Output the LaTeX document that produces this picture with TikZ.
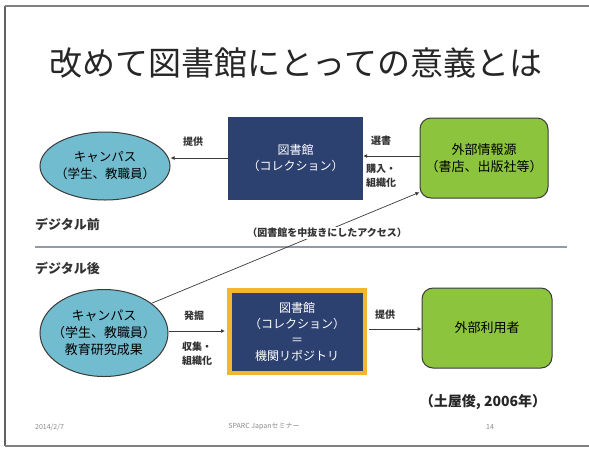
\documentclass[tikz,border=0pt]{standalone}
\usepackage{fontspec}
\setmainfont{Noto Sans CJK JP}
\usetikzlibrary{arrows.meta,shapes.geometric}
\definecolor{campus}{HTML}{72BCCF}
\definecolor{navy}{HTML}{2D4170}
\definecolor{leaf}{HTML}{8DC43D}
\definecolor{gold}{HTML}{F4B532}
\definecolor{edge}{HTML}{3A3A3A}
\definecolor{rule}{HTML}{8E9CA8}
\definecolor{foot}{HTML}{8A8A8A}
\tikzset{
  campusnode/.style={ellipse, draw=edge, line width=1pt, fill=campus, inner xsep=-12pt, inner ysep=-4pt, align=center},
  libnode/.style={rectangle, fill=navy, text=white, inner sep=0pt, align=center, font=\fontsize{12}{16}\selectfont},
  srcnode/.style={rectangle, rounded corners=11pt, draw=edge, line width=1pt, fill=leaf, inner sep=0pt, align=center, font=\fontsize{13}{17}\selectfont},
  lbl/.style={font=\fontsize{10}{14}\bfseries\selectfont, text=black!80, inner sep=0pt, align=left},
  conn/.style={draw=edge, line width=0.9pt, -{Latex[length=4pt,width=4pt]}},
  sect/.style={font=\fontsize{13}{15}\bfseries\selectfont, text=black!80, anchor=west, inner sep=0pt},
  footnode/.style={font=\fontsize{7}{8}\selectfont, text=foot, inner sep=0pt}
}
\begin{document}
\begin{tikzpicture}[x=1pt,y=-1pt]
\useasboundingbox (0,0) rectangle (589,448);
\fill[white] (0,0) rectangle (589,448);
% slide frame
\draw[edge!80, line width=2pt] (5,6) -- (5,446);
\draw[gray, line width=1.2pt] (5,6) -- (589,6);
\draw[gray, line width=1.2pt] (5,446) -- (589,446);
% title
\node[font=\fontsize{33}{36}\selectfont, text=black!85] (title) at (296,63) {改めて図書館にとっての意義とは};
% top row
\node[campusnode, font=\fontsize{12.5}{17}\selectfont, minimum width=130pt, minimum height=68pt] (campusA) at (105,166) {キャンパス\\（学生、教職員）};
\node[libnode, minimum width=135pt, minimum height=83pt] (libA) at (295.5,158.5) {図書館\\（コレクション）};
\node[srcnode, minimum width=128pt, minimum height=80pt] (srcA) at (484,158) {外部情報源\\（書店、出版社等）};
\draw[conn] (libA.west |- 0,158) -- (campusA.east |- 0,158);
\draw[conn] (srcA.west |- 0,156) -- (libA.east |- 0,156);
\node[lbl] (teikyoA) at (193,142) {提供};
\node[lbl] (sensho) at (381,141) {選書};
\node[lbl] (konyu) at (381,176) {購入・\\組織化};
% divider
\node[sect] (before) at (35,224) {デジタル前};
\draw[rule, line width=1.3pt] (35,247) -- (567,247);
\node[sect] (after) at (35,268) {デジタル後};
% bottom row
\node[campusnode, font=\fontsize{13}{17}\selectfont, minimum width=128pt, minimum height=87pt] (campusB) at (104,333) {キャンパス\\（学生、教職員）\\教育研究成果};
\node[libnode, draw=gold, line width=4.5pt, minimum width=135.5pt, minimum height=82.5pt] (libB) at (297,331.5) {図書館\\（コレクション）\\＝\\機関リポジトリ};
\node[srcnode, minimum width=130pt, minimum height=80pt] (srcB) at (487,328) {外部利用者};
\draw[conn] (campusB.east |- 0,331) -- ([xshift=-2pt]libB.west |- 0,331);
\draw[conn] ([xshift=2pt]libB.east |- 0,329) -- (srcB.west |- 0,329);
\draw[conn, line width=0.7pt] (campusB.32) -- (srcA.-152);
\node[font=\fontsize{10}{12}\bfseries\selectfont, text=black!80, fill=white, inner xsep=2pt, inner ysep=1pt] (bypass) at (327,233) {（図書館を中抜きにしたアクセス）};
\node[lbl] (hakkutsu) at (194,316) {発掘};
\node[lbl] (shushu) at (197,354) {収集・\\組織化};
\node[lbl] (teikyoB) at (385,315) {提供};
\node[font=\fontsize{14}{16}\bfseries\selectfont, text=black!85, inner sep=0pt] (cite) at (483,402) {（土屋俊, 2006年）};
% footer
\node[footnode, anchor=west] (date) at (35,427) {2014/2/7};
\node[footnode] (event) at (264,427) {SPARC Japanセミナー};
\node[footnode] (page) at (490,427) {14};
\end{tikzpicture}
\end{document}
